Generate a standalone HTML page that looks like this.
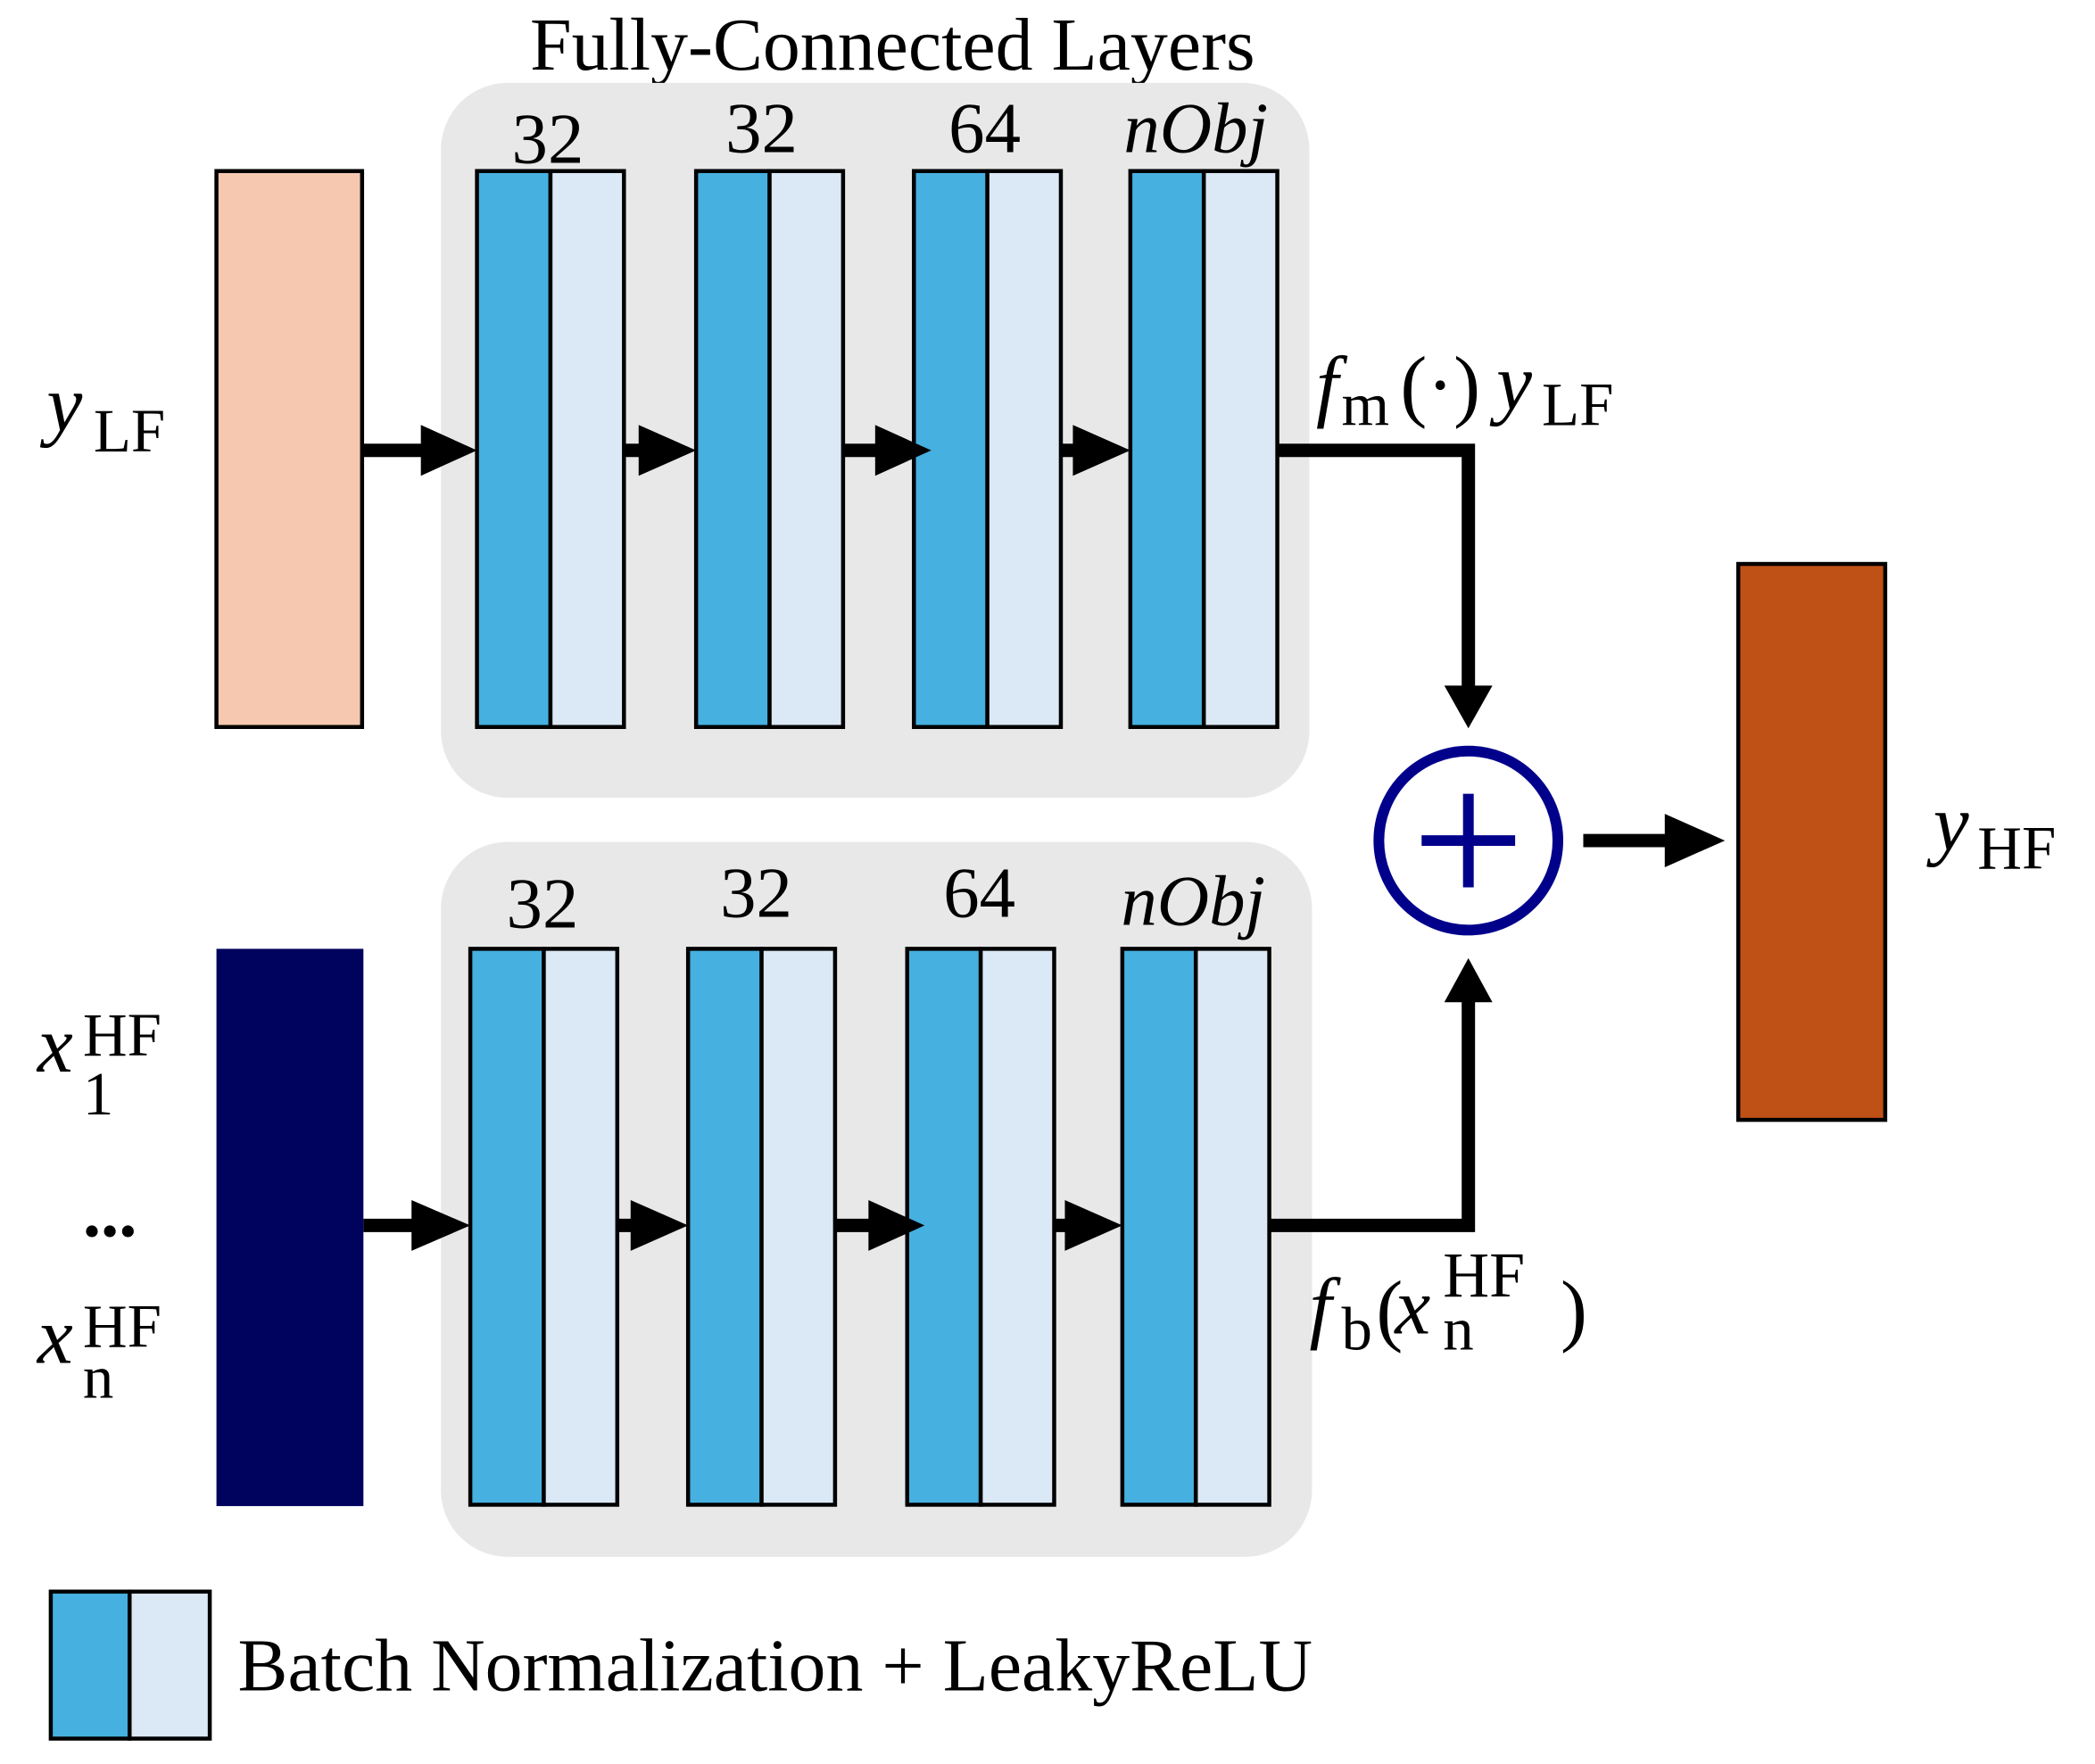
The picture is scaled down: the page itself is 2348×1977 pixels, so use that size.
<!DOCTYPE html>
<html><head><meta charset="utf-8"><style>
html,body{margin:0;padding:0;background:#fff;}
svg{display:block;}
text{font-family:"Liberation Serif",serif;fill:#000;}
</style></head><body>
<svg width="2348" height="1977" viewBox="0 0 1568 1320" preserveAspectRatio="none" xmlns="http://www.w3.org/2000/svg">
<defs>
<g id="layer">
<rect x="0" y="0" width="55" height="416" fill="#46b0e0" stroke="#000" stroke-width="3"/>
<rect x="55" y="0" width="55" height="416" fill="#dbe8f5" stroke="#000" stroke-width="3"/>
</g>
</defs>
<text x="668" y="52" font-size="56" text-anchor="middle">Fully-Connected Layers</text>
<rect x="330" y="62" width="650" height="535" rx="50" fill="#e8e8e8"/>
<rect x="330" y="630" width="652" height="535" rx="50" fill="#e8e8e8"/>
<rect x="162" y="128" width="109" height="416" fill="#f6c8af" stroke="#000" stroke-width="3"/>
<rect x="162" y="710" width="110" height="417" fill="#00035e"/>
<use href="#layer" x="357" y="128"/><use href="#layer" x="521" y="128"/><use href="#layer" x="684" y="128"/><use href="#layer" x="846" y="128"/>
<use href="#layer" x="352" y="710"/><use href="#layer" x="515" y="710"/><use href="#layer" x="679" y="710"/><use href="#layer" x="840" y="710"/>
<g font-size="54" text-anchor="middle">
<text x="410" y="122">32</text><text x="570" y="114">32</text><text x="737" y="114">64</text><text x="895" y="114" font-style="italic">nObj</text>
<text x="406" y="694">32</text><text x="566" y="686">32</text><text x="733" y="686">64</text><text x="893" y="692" font-style="italic">nObj</text>
</g>
<g stroke="#000" stroke-width="10" fill="none">
<line x1="271" y1="337" x2="320" y2="337"/><line x1="466" y1="337" x2="482" y2="337"/><line x1="630" y1="337" x2="660" y2="337"/><line x1="794" y1="337" x2="808" y2="337"/>
<line x1="272" y1="917" x2="312" y2="917"/><line x1="461" y1="917" x2="476" y2="917"/><line x1="625" y1="917" x2="655" y2="917"/><line x1="788" y1="917" x2="803" y2="917"/>
<polyline points="955,337 1099,337 1099,518"/>
<polyline points="949,917 1099,917 1099,745"/>
<line x1="1185" y1="629" x2="1250" y2="629"/>
</g>
<g fill="#000">
<polygon points="315,318 357,337 315,356"/><polygon points="478,318 521,337 478,356"/><polygon points="655,318 697,337 655,356"/><polygon points="803,318 846,337 803,356"/>
<polygon points="308,898 352,917 308,936"/><polygon points="472,898 515,917 472,936"/><polygon points="650,898 692,917 650,936"/><polygon points="797,898 840,917 797,936"/>
<polygon points="1081,513 1117,513 1099,545"/><polygon points="1081,750 1117,750 1099,717"/>
<polygon points="1246,609 1291,629 1246,649"/>
</g>
<circle cx="1099" cy="629" r="67" fill="#fff" stroke="#00008b" stroke-width="8"/>
<line x1="1064" y1="629" x2="1134" y2="629" stroke="#00008b" stroke-width="8"/>
<line x1="1099" y1="594" x2="1099" y2="664" stroke="#00008b" stroke-width="8"/>
<rect x="1301" y="422" width="110" height="416" fill="#bf5016" stroke="#000" stroke-width="3"/>
<g font-size="60">
<text x="35" y="322" font-style="italic">y</text><text x="70" y="338" font-size="46">LF</text>
<text x="28" y="802" font-style="italic">x</text><text x="62" y="790" font-size="46">HF</text><text x="62" y="834" font-size="46">1</text>
<text x="62" y="925" font-size="54" font-weight="bold">...</text>
<text x="28" y="1020" font-style="italic">x</text><text x="62" y="1008" font-size="46">HF</text><text x="62" y="1046" font-size="46">n</text>
<text x="1447" y="636" font-style="italic">y</text><text x="1480" y="650" font-size="46">HF</text>
<text x="985" y="308" font-style="italic">f</text><text x="1004" y="318" font-size="46">m</text><text x="1048" y="308">(·)</text><text x="1120" y="306" font-style="italic">y</text><text x="1154" y="318" font-size="46">LF</text>
<text x="980" y="998" font-style="italic">f</text><text x="1004" y="1010" font-size="46">b</text><text x="1030" y="1000">(</text><text x="1044" y="998" font-style="italic">x</text><text x="1080" y="970" font-size="48">HF</text><text x="1080" y="1010" font-size="46">n</text><text x="1168" y="1000">)</text>
</g>
<rect x="38" y="1191" width="59" height="110" fill="#46b0e0" stroke="#000" stroke-width="3"/>
<rect x="97" y="1191" width="60" height="110" fill="#dbe8f5" stroke="#000" stroke-width="3"/>
<text x="178" y="1265" font-size="56">Batch Normalization + LeakyReLU</text>
</svg>
</body></html>
